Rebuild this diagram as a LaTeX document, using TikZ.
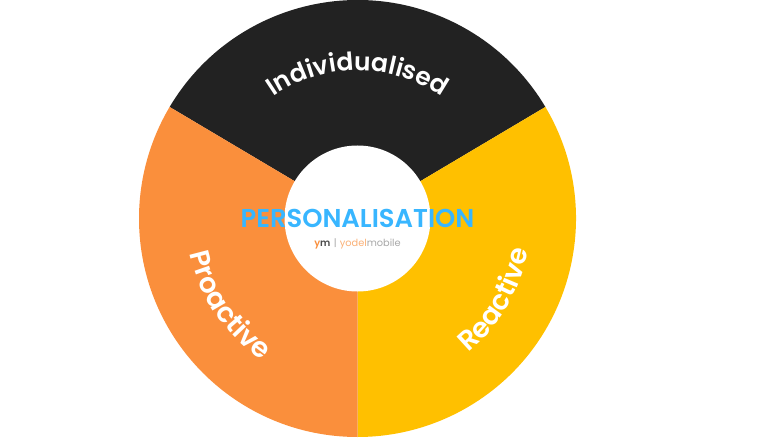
\documentclass[tikz,border=0pt]{standalone}
\usepackage{fontspec}
\setmainfont{Poppins}[BoldFont={Poppins SemiBold}]
\newfontfamily\titlefont{Poppins SemiBold}
\usetikzlibrary{decorations.text}
\definecolor{cdark}{HTML}{222222}
\definecolor{corange}{HTML}{FA8F3C}
\definecolor{cyellow}{HTML}{FFC000}
\definecolor{cblue}{HTML}{38B6FF}
\definecolor{cgrey}{HTML}{A8A8A8}
\newcommand{\arcfont}{\fontsize{25}{25}\selectfont\bfseries\color{white}}
\newcommand{\sidefont}{\fontsize{27.5}{27.5}\selectfont\bfseries\color{white}}
\tikzset{
  arclabel/.style={decorate,decoration={text along path,text align=center,text={|\arcfont|#1}}},
  sidelabel/.style={decorate,decoration={text along path,text align=center,text={|\sidefont|#1}}},
}
\begin{document}
\begin{tikzpicture}[x=1pt,y=1pt]
\useasboundingbox (0,0) rectangle (768,437);
\coordinate (c) at (357.5,218.5);
\def\R{218.5}
\fill[cdark] (c) -- ++(149.3:\R) arc[start angle=149.3,end angle=30.7,radius=\R] -- cycle;
\fill[cyellow] (c) -- ++(30.7:\R) arc[start angle=30.7,end angle=-90,radius=\R] -- cycle;
\fill[corange] (c) -- ++(270:\R) arc[start angle=270,end angle=149.3,radius=\R] -- cycle;
\node[circle,fill=white,minimum size=146pt,inner sep=0pt] (hub) at (c) {};
\path[arclabel={Individualised}] (c) ++(128:148) arc[start angle=128,end angle=52,radius=148];
\path[sidelabel={Proactive}] (c) ++(184:171) arc[start angle=184,end angle=244,radius=171];
\path[sidelabel={Reactive}] (c) ++(-59:174) arc[start angle=-59,end angle=-2,radius=174];
\node[inner sep=0pt,text=cblue] (title) at (357.5,218.5) {\fontsize{25.8}{25.8}\titlefont PERSONALISATION};
\node[inner sep=0pt] (logo) at (357.5,193.5) {\fontsize{9.8}{9.8}\selectfont\textcolor{corange}{\bfseries y}\textcolor{black!70}{\bfseries m}\textcolor{cgrey}{\,\,|\,\,}\textcolor{corange!70}{yodel}\textcolor{cgrey}{mobile}};
\end{tikzpicture}
\end{document}
